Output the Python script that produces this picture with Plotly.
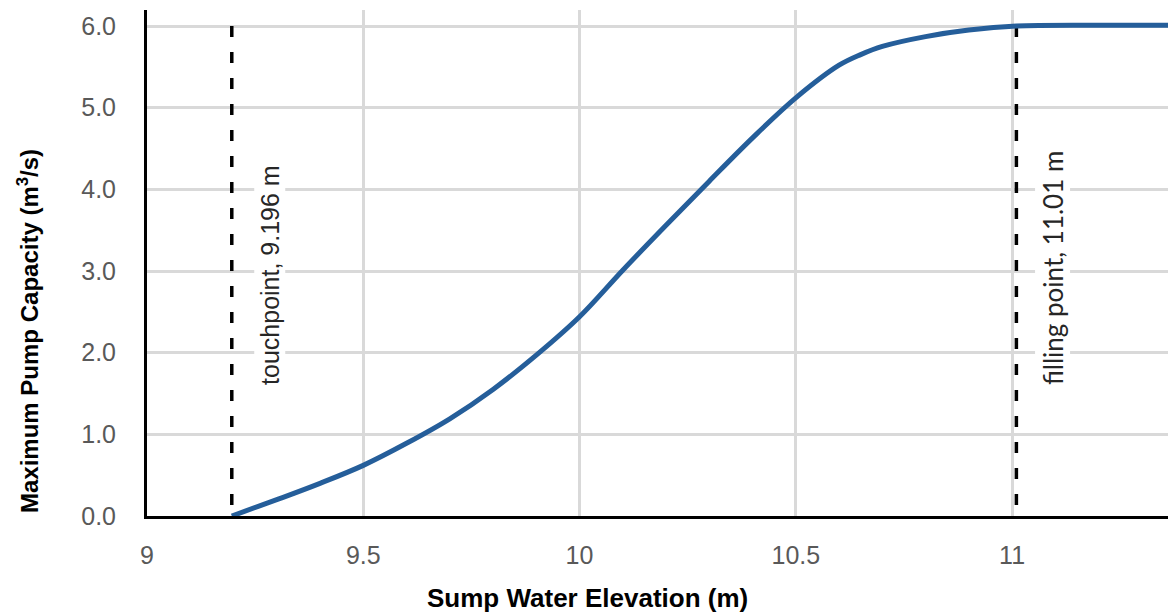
import plotly.graph_objects as go

# Data
elevation = [9.196, 9.3, 9.4, 9.5, 9.6, 9.7, 9.8, 9.9, 10.0, 10.1, 10.2, 10.3,
             10.4, 10.5, 10.6, 10.65, 10.7, 10.8, 10.9, 11.01, 11.2, 11.4]
capacity = [0.0, 0.20, 0.40, 0.62, 0.89, 1.19, 1.55, 1.97, 2.44, 3.01, 3.56, 4.10,
            4.63, 5.12, 5.52, 5.65, 5.75, 5.87, 5.95, 6.0, 6.01, 6.01]

touchpoint = 9.196
filling_point = 11.01
marker_top = 6.0
x_ticks = [9, 9.5, 10, 10.5, 11]
x_tick_labels = ["9", "9.5", "10", "10.5", "11"]
y_ticks = [0, 1, 2, 3, 4, 5, 6]
y_tick_labels = ["0.0", "1.0", "2.0", "3.0", "4.0", "5.0", "6.0"]

# page body has an 8px margin; compensate so the plot lands where the reference has it
W, H = 1168, 605
ML, MR, MT, MB = 139, 0, 2, 97
PX0, PY0, PW, PH = 147, 516, W - ML - MR, H - MT - MB  # reference plot origin / size


def px_to_paper(px, py):
    return (px - PX0) / PW, (PY0 - py) / PH


fig = go.Figure()

for xv in [touchpoint, filling_point]:
    fig.add_trace(go.Scatter(
        x=[xv, xv], y=[marker_top, 0], mode="lines",
        line=dict(color="black", width=3.5, dash="11px,15px"),
        hoverinfo="skip", showlegend=False))

fig.add_trace(go.Scatter(
    x=elevation, y=capacity, mode="lines",
    line=dict(color="#255e9a", width=5, shape="spline", smoothing=1.0),
    showlegend=False))

fig.add_annotation(
    x=9.284, y=2.95, xref="x", yref="y", text=f"touchpoint, {touchpoint} m",
    textangle=-90, showarrow=False, bgcolor="white", xanchor="center", yanchor="middle",
    font=dict(family="Liberation Sans", size=25, color="#262626"))
fig.add_annotation(
    x=11.093, y=3.04, xref="x", yref="y", text=f"filling point, {filling_point} m",
    textangle=-90, showarrow=False, bgcolor="white", xanchor="center", yanchor="middle",
    font=dict(family="Lato", size=26, color="#262626"))

yx, yy = px_to_paper(28, 331)
fig.add_annotation(
    x=yx, y=yy, xref="paper", yref="paper", xanchor="center", yanchor="middle",
    text="<b>Maximum Pump Capacity (m<sup>3</sup>/s)</b>", textangle=-90, showarrow=False,
    font=dict(family="Liberation Sans", size=24, color="black"))
xx, xy = px_to_paper(587, 598)
fig.add_annotation(
    x=xx, y=xy, xref="paper", yref="paper", xanchor="center", yanchor="middle",
    text="<b>Sump Water Elevation (m)</b>", showarrow=False,
    font=dict(family="Liberation Sans", size=26, color="black"))

fig.update_layout(
    width=W, height=H,
    margin=dict(l=ML, r=MR, t=MT, b=MB),
    plot_bgcolor="white", paper_bgcolor="white",
    xaxis=dict(range=[9, 11.379], tickvals=x_ticks, ticktext=x_tick_labels,
               showgrid=True, gridcolor="#d9d9d9", gridwidth=3,
               showline=True, linecolor="black", linewidth=3,
               zeroline=False, ticks="", ticklabelstandoff=15,
               tickfont=dict(family="Liberation Sans", size=25, color="#595959")),
    yaxis=dict(range=[0, 6.196], tickvals=y_ticks, ticktext=y_tick_labels,
               showgrid=True, gridcolor="#d9d9d9", gridwidth=3,
               showline=True, linecolor="black", linewidth=3,
               zeroline=False, ticks="", ticklabelstandoff=23,
               tickfont=dict(family="Liberation Sans", size=25, color="#595959")),
)

fig.write_html("out.html")
